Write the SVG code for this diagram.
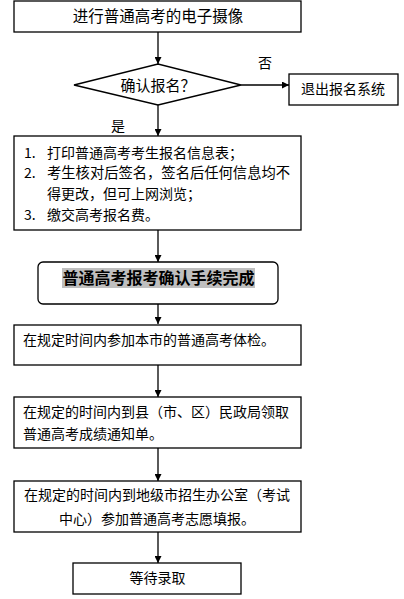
<svg xmlns="http://www.w3.org/2000/svg" width="404" height="599" viewBox="0 0 404 599">
<style>
.box{fill:#fff;stroke:#000;stroke-width:1.3}
.t{font-family:"Noto Sans CJK SC","Noto Sans CJK JP",sans-serif;font-size:14px;fill:#000}
.c{text-anchor:middle}
.b{font-weight:bold;font-size:16px}
.ln{stroke:#000;stroke-width:1.3;fill:none}
</style>
<defs>
<marker id="ah" markerWidth="8" markerHeight="7" refX="7" refY="3.5" orient="auto" markerUnits="userSpaceOnUse">
<path d="M0,0 L7,3.5 L0,7 Z" fill="#000"/>
</marker>
</defs>
<rect width="404" height="599" fill="#fff"/>
<g id="connectors">
<line class="ln" x1="158" y1="32" x2="158" y2="64" marker-end="url(#ah)"/>
<line class="ln" x1="241" y1="85" x2="289" y2="85" marker-end="url(#ah)"/>
<line class="ln" x1="158" y1="105" x2="158" y2="136" marker-end="url(#ah)"/>
<line class="ln" x1="158" y1="230" x2="158" y2="262" marker-end="url(#ah)"/>
<line class="ln" x1="158" y1="304" x2="158" y2="324" marker-end="url(#ah)"/>
<line class="ln" x1="158" y1="365" x2="158" y2="397" marker-end="url(#ah)"/>
<line class="ln" x1="158" y1="448" x2="158" y2="481" marker-end="url(#ah)"/>
<line class="ln" x1="158" y1="532" x2="158" y2="563" marker-end="url(#ah)"/>
<text class="t" x="265" y="68" text-anchor="middle">否</text>
<text class="t" x="118" y="131" text-anchor="middle">是</text>
</g>
<g id="n1">
<rect class="box" x="14" y="1" width="287" height="31"/>
<text class="t c" x="158" y="21.5" style="font-size:15.5px">进行普通高考的电子摄像</text>
</g>
<g id="n2">
<polygon class="box" points="74,85 158,64 241,85 158,105"/>
<text class="t c" x="158" y="90.5" style="font-size:15px">确认报名？</text>
</g>
<g id="n3">
<rect class="box" x="289" y="74" width="109" height="31"/>
<text class="t c" x="343" y="94">退出报名系统</text>
</g>
<g id="n4">
<rect class="box" x="14" y="136" width="287" height="94"/>
<text class="t" x="24" y="157.5">1.</text>
<text class="t" x="47" y="157.5">打印普通高考考生报名信息表；</text>
<text class="t" x="24" y="178">2.</text>
<text class="t" x="47" y="178" style="font-size:14.3px">考生核对后签名，签名后任何信息均不</text>
<text class="t" x="47" y="198.5">得更改，但可上网浏览；</text>
<text class="t" x="24" y="220">3.</text>
<text class="t" x="47" y="220">缴交高考报名费。</text>
</g>
<g id="n5">
<rect class="box" x="38" y="262" width="240" height="42" rx="5" ry="5"/>
<rect x="62" y="268" width="193" height="20" fill="#bfbfbf"/>
<text class="t c b" x="158.5" y="284">普通高考报考确认手续完成</text>
</g>
<g id="n6">
<rect class="box" x="14" y="325" width="287" height="40"/>
<text class="t" x="23" y="345">在规定时间内参加本市的普通高考体检。</text>
</g>
<g id="n7">
<rect class="box" x="14" y="397" width="287" height="51"/>
<text class="t" x="23" y="417">在规定的时间内到县（市、区）民政局领取</text>
<text class="t" x="23" y="438.5">普通高考成绩通知单。</text>
</g>
<g id="n8">
<rect class="box" x="14" y="481" width="287" height="51"/>
<text class="t" x="24" y="500">在规定的时间内到地级市招生办公室（考试</text>
<text class="t c" x="157" y="523.5">中心）参加普通高考志愿填报。</text>
</g>
<g id="n9">
<rect class="box" x="73" y="563" width="168" height="31"/>
<text class="t c" x="157.5" y="582.5">等待录取</text>
</g>
</svg>
